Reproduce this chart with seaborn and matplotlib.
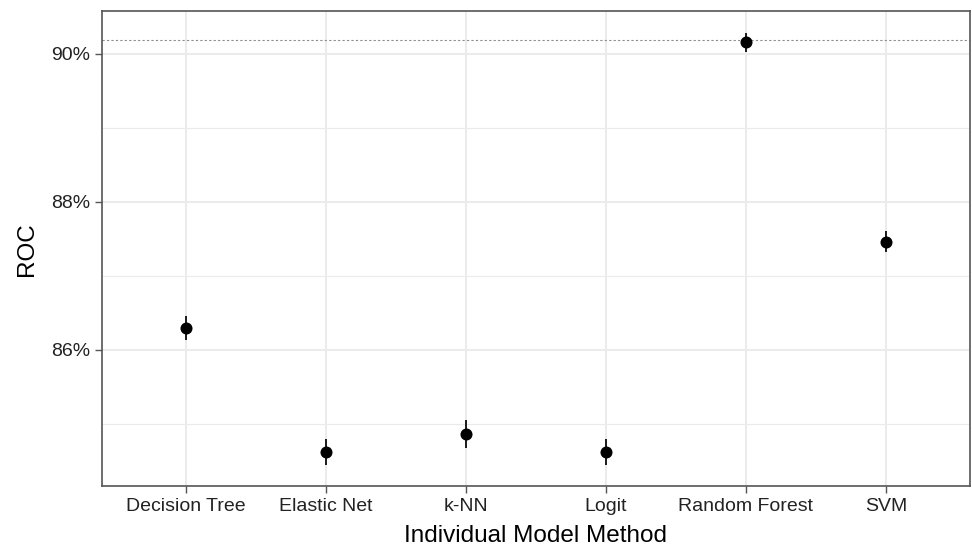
import matplotlib
matplotlib.use('Agg')
import matplotlib.pyplot as plt
import seaborn as sns
import pandas as pd
from matplotlib.ticker import FuncFormatter, MultipleLocator

# values (ROC in %)
methods = ['Decision Tree', 'Elastic Net', 'k-NN', 'Logit', 'Random Forest', 'SVM']
roc = [86.29, 84.62, 84.86, 84.62, 90.15, 87.46]
roc_err = [0.16, 0.175, 0.19, 0.175, 0.13, 0.14]
best_line = 90.18

df = pd.DataFrame({'Method': methods, 'ROC': roc, 'err': roc_err})

sns.set_theme(style='white')
plt.rcParams['font.family'] = ['Liberation Sans', 'DejaVu Sans']

fig, ax = plt.subplots(figsize=(9.72, 5.54), dpi=100)
fig.subplots_adjust(left=0.1046, right=0.998, top=0.9796, bottom=0.1227)

# grid like ggplot theme_bw
ax.set_axisbelow(True)
ax.yaxis.set_major_locator(MultipleLocator(2))
ax.yaxis.set_minor_locator(MultipleLocator(1))
ax.grid(which='major', color='#EBEBEB', linewidth=1.4)
ax.grid(which='minor', axis='y', color='#EBEBEB', linewidth=0.8)

ax.axhline(best_line, color='#8C8C8C', linestyle=(0, (2, 2)), linewidth=0.8, zorder=1)

ax.errorbar(range(len(methods)), df['ROC'], yerr=df['err'], fmt='none',
            ecolor='#1A1A1A', elinewidth=1.4, capsize=0, zorder=2)
sns.scatterplot(data=df, x='Method', y='ROC', color='black', s=75,
                edgecolor='black', linewidth=0, ax=ax, zorder=3)

ax.set_xlim(-0.6, len(methods) - 0.4)
ax.set_ylim(84.16, 90.57)
ax.yaxis.set_major_formatter(FuncFormatter(lambda v, p: f'{v:.0f}%'))

ax.set_xlabel('Individual Model Method', fontsize=17.5, color='black', labelpad=7)
ax.set_ylabel('ROC', fontsize=17.5, color='black', labelpad=9)
ax.tick_params(axis='both', which='major', labelsize=14, labelcolor='#222222',
               color='#555555', length=5, width=1, direction='out',
               left=True, bottom=True)
ax.tick_params(axis='y', which='minor', length=0)

for s in ax.spines.values():
    s.set_color('#555555')
    s.set_linewidth(1.2)

fig.savefig('out.png', dpi=100)
